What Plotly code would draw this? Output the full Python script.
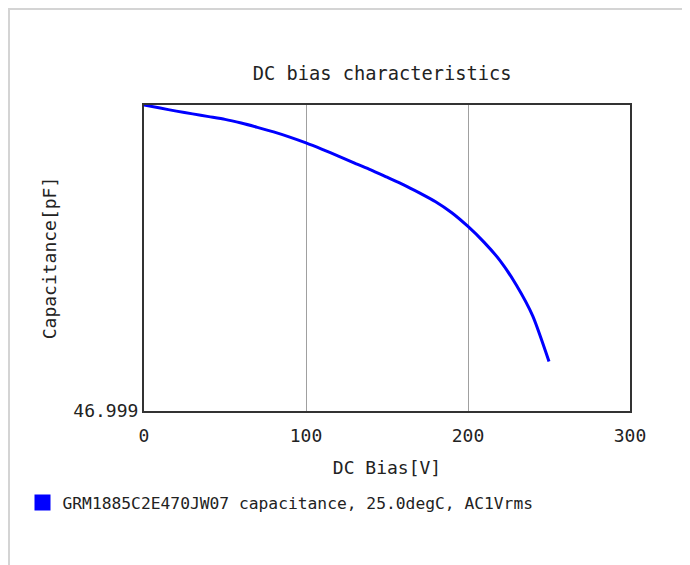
import plotly.graph_objects as go

# DC bias [V]
dc_bias = [0, 10, 20, 30, 40, 50, 60, 70, 80, 90, 100, 110, 120, 130, 140,
           150, 160, 170, 180, 190, 200, 210, 220, 230, 240, 250]
# Capacitance [pF]
capacitance = [47.000000, 46.999990, 46.999980, 46.999971, 46.999962, 46.999953,
               46.999941, 46.999927, 46.999912, 46.999895, 46.999876, 46.999855,
               46.999833, 46.999810, 46.999788, 46.999764, 46.999740, 46.999713,
               46.999684, 46.999648, 46.999603, 46.999551, 46.999490, 46.999410,
               46.999310, 46.999162]

x_ticks = [0, 100, 200, 300]
y_ticks = [46.999]
y_ticktext = ["46.999"]

series_name = "GRM1885C2E470JW07 capacitance, 25.0degC, AC1Vrms"
title_text = "DC bias characteristics"
x_title = "DC Bias[V]"
y_title = "Capacitance[pF]"

FONT = "DejaVu Sans Mono"
TXT = "#222222"
BLUE = "#0000ff"

# plot area in figure px (page adds an 8px body offset)
L, R, T, B = 136, 622, 97, 403
PW, PH = R - L, B - T

fig = go.Figure()
fig.add_trace(go.Scatter(x=dc_bias, y=capacitance, mode="lines",
                         line=dict(color=BLUE, width=3, shape="spline", smoothing=0.6),
                         showlegend=False, hoverinfo="skip"))
fig.add_trace(go.Scatter(x=[None], y=[None], mode="markers", name=series_name,
                         marker=dict(symbol="square", color=BLUE, size=16),
                         showlegend=True))

fig.update_layout(
    width=690, height=565,
    margin=dict(l=L, r=690 - R, t=T, b=565 - B),
    paper_bgcolor="white", plot_bgcolor="white",
    font=dict(family=FONT, size=18, color=TXT),
    title=dict(text=title_text, x=0.49, xref="paper", xanchor="center",
               y=1 - 65 / 565, yanchor="middle",
               font=dict(family=FONT, size=18.7, color=TXT)),
    showlegend=True,
    legend=dict(x=-0.25, xanchor="left", y=-0.30, yanchor="middle",
                orientation="h", font=dict(family=FONT, size=16.3, color=TXT),
                bgcolor="rgba(0,0,0,0)", itemwidth=30),
    xaxis=dict(range=[0, 300], tickvals=x_ticks, showgrid=True,
               gridcolor="#a0a0a0", gridwidth=1, zeroline=False,
               showline=True, mirror=True, linecolor="#333333", linewidth=2,
               ticks="outside", ticklen=7, tickcolor="rgba(0,0,0,0)",
               tickfont=dict(family=FONT, size=18, color=TXT),
               title=dict(text=x_title, standoff=17,
                          font=dict(family=FONT, size=18, color=TXT))),
    yaxis=dict(range=[46.999, 47.000], tickvals=y_ticks, ticktext=y_ticktext,
               showgrid=False, zeroline=False,
               showline=True, mirror=True, linecolor="#333333", linewidth=2,
               ticks="", tickfont=dict(family=FONT, size=18, color=TXT),
               title=dict(text=y_title, standoff=12,
                          font=dict(family=FONT, size=18, color=TXT))),
    shapes=[dict(type="rect", xref="paper", yref="paper",
                 x0=(1 - L) / PW, x1=(678 - L) / PW,
                 y0=(B - 700) / PH, y1=(B - 1) / PH,
                 line=dict(color="#d4d4d4", width=2), layer="below")],
)

fig.write_html("out.html")
